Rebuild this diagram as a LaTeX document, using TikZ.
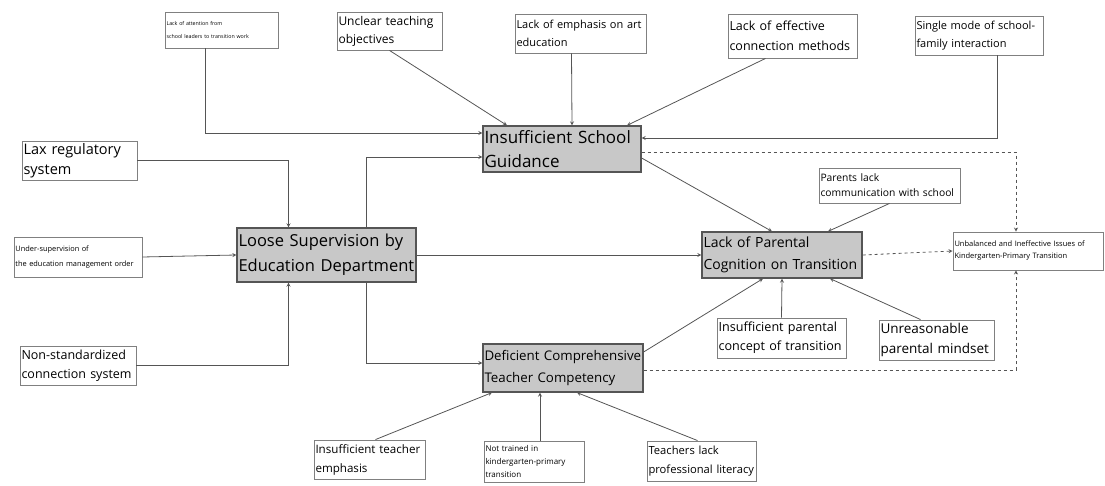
\documentclass[tikz,border=0pt]{standalone}
\usepackage{fontspec}
\setmainfont{Open Sans}
\usepackage{tikz}
\usepackage{xcolor}
\definecolor{edgegray}{RGB}{85,85,85}
\definecolor{boxgray}{RGB}{200,200,200}
\tikzstyle{factor} = [rectangle,draw=edgegray,fill=boxgray,line width=1.2pt,
                      inner sep=1.5pt,align=left,anchor=center]
\tikzstyle{cause} = [rectangle,draw=gray,line width=0.9pt,
                     inner sep=1.5pt,align=left,anchor=center]
\tikzstyle{arrow} = [line width=0.8pt,draw=edgegray,->,>=stealth]
\tikzstyle{dasharrow} = [line width=0.8pt,draw=edgegray,dashed,->,>=stealth]

\begin{document}
\begin{tikzpicture}[x=1pt,y=-1pt]
 \useasboundingbox (0,0) rectangle (1105,486);
 % main factors
 \node (ISG) [factor,minimum width=158pt,minimum height=46pt,text width=155pt,
       font={\fontsize{17}{24}\selectfont}] at (562,149) {Insufficient School\\Guidance};
 \node (LSE) [factor,minimum width=179pt,minimum height=54pt,text width=176pt,
       font={\fontsize{16.5}{25}\selectfont}] at (326.5,255) {Loose Supervision by\\Education Department};
 \node (LPC) [factor,minimum width=160pt,minimum height=46pt,text width=157pt,
       font={\fontsize{14}{22}\selectfont}] at (782,255) {Lack of Parental\\Cognition on Transition};
 \node (DCT) [factor,minimum width=160pt,minimum height=48pt,text width=157pt,
       font={\fontsize{13.3}{22}\selectfont}] at (563,368) {Deficient Comprehensive\\Teacher Competency};
 \node (UNB) [cause,minimum width=150pt,minimum height=38pt,text width=147pt,
       font={\fontsize{7.5}{12}\selectfont}] at (1028,251) {Unbalanced and Ineffective Issues of\\Kindergarten-Primary Transition};
 % causes above
 \node (TL)  [cause,minimum width=113pt,minimum height=36pt,text width=110pt,
       font={\fontsize{5.3}{13}\selectfont}] at (221.5,30) {Lack of attention from\\school leaders to transition work};
 \node (UTO) [cause,minimum width=105pt,minimum height=38pt,text width=102pt,
       font={\fontsize{12}{18}\selectfont}] at (389.5,31) {Unclear teaching\\objectives};
 \node (LEA) [cause,minimum width=131pt,minimum height=39pt,text width=128pt,
       font={\fontsize{11}{18}\selectfont}] at (580.5,33.5) {Lack of emphasis on art\\education};
 \node (LEC) [cause,minimum width=129pt,minimum height=44pt,text width=126pt,
       font={\fontsize{12.5}{20}\selectfont}] at (792.5,36) {Lack of effective\\connection methods};
 \node (SMI) [cause,minimum width=128pt,minimum height=39pt,text width=125pt,
       font={\fontsize{11}{18}\selectfont}] at (979,35.5) {Single mode of school-\\family interaction};
 % causes on the left
 \node (LAX) [cause,minimum width=115pt,minimum height=39pt,text width=112pt,
       font={\fontsize{14.5}{20}\selectfont}] at (79.5,160.5) {Lax regulatory\\system};
 \node (UND) [cause,minimum width=128pt,minimum height=40pt,text width=125pt,
       font={\fontsize{7.4}{15}\selectfont}] at (78,257) {Under-supervision of\\the education management order};
 \node (NSC) [cause,minimum width=116pt,minimum height=39pt,text width=113pt,
       font={\fontsize{12.5}{19}\selectfont}] at (78,365.5) {Non-standardized\\connection system};
 % parent side
 \node (PLC) [cause,minimum width=141pt,minimum height=35pt,text width=138pt,
       font={\fontsize{10.3}{15}\selectfont}] at (889.5,185.5) {Parents lack\\communication with school};
 \node (IPC) [cause,minimum width=129pt,minimum height=40pt,text width=126pt,
       font={\fontsize{12.6}{19}\selectfont}] at (781.5,338) {Insufficient parental\\concept of transition};
 \node (UPM) [cause,minimum width=115pt,minimum height=40pt,text width=112pt,
       font={\fontsize{13.5}{20}\selectfont}] at (936.5,340) {Unreasonable\\parental mindset};
 % teacher side
 \node (ITE) [cause,minimum width=111pt,minimum height=39pt,text width=108pt,
       font={\fontsize{11.6}{19}\selectfont}] at (369.5,459.5) {Insufficient teacher\\emphasis};
 \node (NTR) [cause,minimum width=100pt,minimum height=41pt,text width=97pt,
       font={\fontsize{8}{13}\selectfont}] at (534,461.5) {Not trained in\\kindergarten-primary\\transition};
 \node (TLP) [cause,minimum width=109pt,minimum height=40pt,text width=106pt,
       font={\fontsize{11.2}{19}\selectfont}] at (701.5,461) {Teachers lack\\professional literacy};
 % connectors into school guidance
 \draw [arrow] ([xshift=-16pt]TL.south) |- ([yshift=16pt]ISG.west);
 \draw [arrow] (UTO.south) -- ([xshift=-55pt]ISG.north);
 \draw [arrow] ([xshift=-9pt]LEA.south) -- ([xshift=10pt]ISG.north);
 \draw [arrow] ([xshift=-27pt]LEC.south) -- ([xshift=65pt]ISG.north);
 \draw [arrow] ([xshift=18pt]SMI.south) |- ([yshift=11pt]ISG.east);
 % education department
 \draw [arrow] (LAX.east) -| ([xshift=-38pt]LSE.north);
 \draw [arrow] (UND.east) -- (LSE.west);
 \draw [arrow] (NSC.east) -| ([xshift=-38pt]LSE.south);
 \draw [arrow] ([xshift=40pt]LSE.north) |- ([yshift=-8pt]ISG.west);
 \draw [arrow] ([xshift=40pt]LSE.south) |- ([yshift=5pt]DCT.west);
 \draw [arrow] (LSE.east) -- (LPC.west);
 % parental cognition
 \draw [arrow] ([yshift=-9pt]ISG.east) -- ([xshift=-10pt]LPC.north);
 \draw [arrow] (PLC.south) -- ([xshift=46pt]LPC.north);
 \draw [arrow] (IPC.north) -- (LPC.south);
 \draw [arrow] ([xshift=-16pt]UPM.north) -- ([xshift=48pt]LPC.south);
 \draw [arrow] ([yshift=16pt]DCT.east) -- ([xshift=-19pt]LPC.south);
 % teacher competency
 \draw [arrow] ([xshift=6pt]ITE.north) -- ([xshift=-71pt]DCT.south);
 \draw [arrow] ([xshift=6pt]NTR.north) -- ([xshift=-23pt]DCT.south);
 \draw [arrow] ([xshift=-4pt]TLP.north) -- ([xshift=14pt]DCT.south);
 % into the outcome
 \draw [dasharrow] ([yshift=-3pt]ISG.east) -| ([xshift=-12pt]UNB.north);
 \draw [dasharrow] (LPC.east) -- (UNB.west);
 \draw [dasharrow] ([yshift=-2pt]DCT.east) -| ([xshift=-12pt]UNB.south);
\end{tikzpicture}
\end{document}
